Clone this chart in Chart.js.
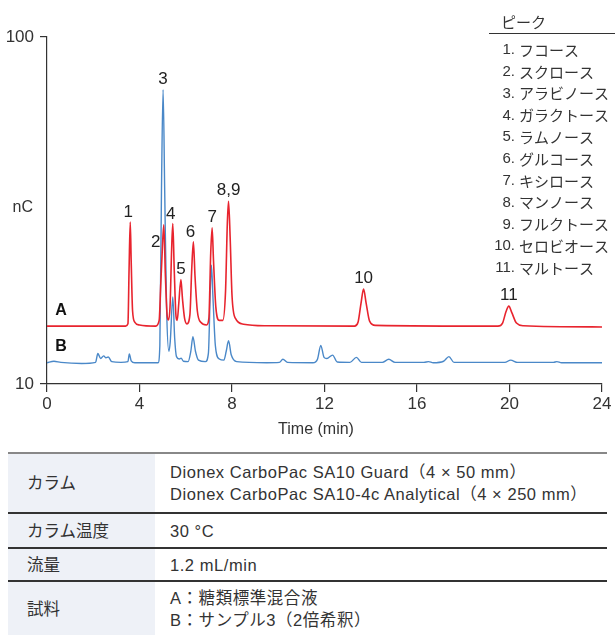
<!DOCTYPE html>
<html>
<head>
<meta charset="utf-8">
<title>糖類分析クロマトグラム</title>
<script src="https://cdn.jsdelivr.net/npm/chart.js"></script>
<style>
  body { margin: 0; background: #fff; font-family: "Liberation Sans", "Noto Sans CJK JP", sans-serif; color: #333; }
  #wrap { position: relative; width: 615px; height: 635px; overflow: hidden; }
  #chart { position: absolute; left: 0; top: 0; }
  table { position: absolute; left: 8px; top: 452px; width: 599px; border-collapse: collapse; font-size: 16.5px; }
  td { padding: 0; vertical-align: middle; line-height: 22px; }
  td.head { width: 128px; background: #eef1f7; padding-left: 19px; }
  td.val { padding-left: 15px; letter-spacing: 0.55px; }
  tr.r1 td { border-top: 2px solid #888; height: 58px; }
  tr.r2 td, tr.r3 td, tr.r4 td { border-top: 2px solid #333; }
  tr.r2 td { height: 33px; }
  tr.r3 td { height: 31px; }
  tr.r4 td { height: 53px; }
</style>
</head>
<body>
<div id="wrap">
  <canvas id="chart" width="615" height="445"></canvas>
  <table>
    <tr class="r1"><td class="head">カラム</td><td class="val">Dionex CarboPac SA10 Guard（4 × 50 mm）<br>Dionex CarboPac SA10-4c Analytical（4 × 250 mm）</td></tr>
    <tr class="r2"><td class="head">カラム温度</td><td class="val">30 °C</td></tr>
    <tr class="r3"><td class="head">流量</td><td class="val">1.2 mL/min</td></tr>
    <tr class="r4"><td class="head">試料</td><td class="val">A：糖類標準混合液<br>B：サンプル3（2倍希釈）</td></tr>
  </table>
</div>

<script>
  // trace A: sugar standard mix (time in min, signal in nC)
  const timeA = [0, 3.4, 3.5, 3.55, 3.6, 3.64, 3.7, 3.8, 4.0, 4.7, 4.85, 4.92, 4.98, 5.05, 5.12, 5.2, 5.25,
    5.32, 5.39, 5.44, 5.5, 5.58, 5.63, 5.7, 5.79, 5.86, 5.95, 6.05, 6.18, 6.26, 6.33, 6.4, 6.5, 6.65, 6.9,
    7.0, 7.08, 7.14, 7.2, 7.3, 7.45, 7.6, 7.72, 7.8, 7.85, 7.92, 8.0, 8.15, 8.5, 9.5,
    13.3, 13.45, 13.58, 13.69, 13.8, 13.95, 14.2, 19.5, 19.7, 19.85, 19.97, 20.1, 20.3, 20.6, 24];
  const signalA = [25, 25, 25.6, 40, 52, 42, 29, 26, 25.3, 25, 26.5, 36, 44, 51.3, 38, 27.5, 26.6,
    30, 45, 51.6, 40, 27.5, 26.5, 31, 37.1, 32, 27, 25.6, 28, 40, 46.9, 38, 29, 26, 25.3,
    27, 44, 50.5, 42, 30, 26.5, 26.5, 34, 52, 57.4, 48, 33, 27, 25.5, 25.1,
    25, 26, 31, 34.6, 31, 26.3, 25.2, 25, 25.8, 28.8, 30.2, 28.5, 25.8, 25.1, 24.8];

  // trace B: sample 3 (2x dilution)
  const timeB = [0, 0.3, 0.6, 1.5, 2.1, 2.2, 2.32, 2.45, 2.55, 2.65, 2.8, 3.2, 3.5, 3.56, 3.64, 3.8, 4.8,
    4.88, 4.95, 5.02, 5.09, 5.17, 5.27, 5.33, 5.44, 5.52, 5.6, 5.72, 5.8, 5.9, 6.1, 6.22, 6.31, 6.42, 6.55,
    6.85, 6.98, 7.06, 7.11, 7.18, 7.28, 7.45, 7.65, 7.75, 7.85, 7.97, 8.2, 9.5, 10.05, 10.2, 10.4,
    11.5, 11.7, 11.84, 11.98, 12.1, 12.35, 12.55, 13.1, 13.38, 13.6, 14.5, 14.78, 15.05, 16.3, 16.5, 16.7,
    17.15, 17.38, 17.6, 19.8, 20.05, 20.35, 21.9, 22.05, 22.25, 24];
  const signalB = [15.5, 15.9, 15.6, 15.3, 15.6, 17.9, 16.6, 17.3, 16.8, 17.0, 15.8, 15.6, 15.8, 17.8, 16, 15.5, 15.5,
    20, 60, 86.3, 60, 30, 18.5, 21, 32.6, 22, 17.1, 16.5, 16.7, 15.9, 15.8, 18.5, 22.3, 18.5, 16.2,
    15.8, 18, 34, 40.8, 32, 20, 16.5, 16.2, 18.5, 21.2, 17.5, 15.8, 15.5, 15.6, 16.4, 15.6,
    15.5, 16.5, 20.0, 16.9, 16.6, 17.5, 15.7, 15.6, 16.9, 15.6, 15.6, 16.4, 15.6, 15.6, 15.8, 15.5,
    15.9, 17.1, 15.6, 15.6, 16.2, 15.6, 15.6, 15.8, 15.5, 15.5];

  // peak labels, anchored at the peak apex
  const peakLabels = ['1', '2', '3', '4', '5', '6', '7', '8,9', '10', '11'];
  const peakTimes = [3.6, 5.05, 5.02, 5.44, 5.79, 6.33, 7.14, 7.85, 13.69, 19.97];
  const peakTops = [52, 51.3, 86.3, 51.6, 37.1, 46.9, 50.5, 57.4, 34.6, 30.2];

  const peakNumbers = ['1.', '2.', '3.', '4.', '5.', '6.', '7.', '8.', '9.', '10.', '11.'];
  const peakNames = ['フコース', 'スクロース', 'アラビノース', 'ガラクトース', 'ラムノース', 'グルコース',
    'キシロース', 'マンノース', 'フルクトース', 'セロビオース', 'マルトース'];

  const xTicks = [0, 4, 8, 12, 16, 20, 24];
  const yTicks = [10, 100];

  const latin = '"Liberation Sans", "Noto Sans CJK JP", sans-serif';
  const jp = '"Noto Sans CJK JP", sans-serif';
  const ink = '#333';

  function toPoints(xs, ys) {
    return xs.map((x, i) => ({ x: x, y: ys[i] }));
  }

  const annotations = {
    id: 'annotations',
    afterDatasetsDraw(chart) {
      const ctx = chart.ctx;
      const xs = chart.scales.x, ys = chart.scales.y;
      ctx.save();
      ctx.fillStyle = '#222';
      ctx.textAlign = 'center';
      ctx.textBaseline = 'middle';
      ctx.font = '17px ' + latin;
      // label "2" sits low and to the left of its peak
      const shift = { '2': [-8, 18], '1': [-2, -10], '6': [-3, -9], '4': [-2, -9] };
      peakLabels.forEach((t, i) => {
        const d = shift[t] || [0, -10.5];
        ctx.fillText(t, xs.getPixelForValue(peakTimes[i]) + d[0], ys.getPixelForValue(peakTops[i]) + d[1]);
      });

      // trace names
      ctx.font = 'bold 16px ' + latin;
      ctx.fillStyle = '#111';
      ctx.fillText('A', 61, 311);
      ctx.fillText('B', 61, 347);

      // axis names
      ctx.font = '16px ' + latin;
      ctx.fillStyle = ink;
      ctx.textAlign = 'right';
      ctx.fillText('nC', 33, 208);
      ctx.textAlign = 'center';
      ctx.font = '16px ' + latin;
      ctx.fillText('Time (min)', 316, 430);

      // peak list
      ctx.font = '15px ' + jp;
      ctx.textAlign = 'left';
      ctx.fillText('ピーク', 501, 22);
      ctx.strokeStyle = ink;
      ctx.lineWidth = 1;
      ctx.beginPath();
      ctx.moveTo(489, 33.5);
      ctx.lineTo(615, 33.5);
      ctx.stroke();
      peakNames.forEach((n, i) => {
        const y = 50 + i * 21.8;
        ctx.font = '15px ' + latin;
        ctx.textAlign = 'right';
        ctx.fillText(peakNumbers[i], 515, y);
        ctx.font = '15px ' + jp;
        ctx.textAlign = 'left';
        ctx.fillText(peakNames[i], 519, y);
      });
      ctx.restore();
    }
  };

  const axisGrid = { drawOnChartArea: false, drawTicks: true, tickLength: 8, color: ink, lineWidth: 1.2 };
  const axisBorder = { color: ink, width: 1.2 };

  new Chart(document.getElementById('chart'), {
    type: 'line',
    data: {
      datasets: [
        { label: 'A', data: toPoints(timeA, signalA), borderColor: '#e8242e', borderWidth: 1.6,
          pointRadius: 0, fill: false, cubicInterpolationMode: 'monotone' },
        { label: 'B', data: toPoints(timeB, signalB), borderColor: '#4a88c8', borderWidth: 1.4,
          pointRadius: 0, fill: false, cubicInterpolationMode: 'monotone' }
      ]
    },
    options: {
      responsive: false,
      animation: false,
      events: [],
      layout: { padding: { top: 37, right: 13, left: 0, bottom: 0 } },
      plugins: { legend: { display: false }, tooltip: { enabled: false } },
      scales: {
        x: {
          type: 'linear', min: 0, max: 24,
          afterBuildTicks: s => { s.ticks = xTicks.map(v => ({ value: v })); },
          afterFit: s => { s.height = 61; },
          ticks: { font: { size: 17, family: latin }, color: ink, padding: 2, maxRotation: 0 },
          grid: axisGrid, border: axisBorder
        },
        y: {
          min: 10, max: 100,
          afterBuildTicks: s => { s.ticks = yTicks.map(v => ({ value: v })); },
          afterFit: s => { s.width = 47; },
          ticks: { font: { size: 17, family: latin }, color: ink, padding: 6 },
          grid: { ...axisGrid, tickLength: 7 }, border: axisBorder
        }
      }
    },
    plugins: [annotations]
  });
</script>
</body>
</html>
